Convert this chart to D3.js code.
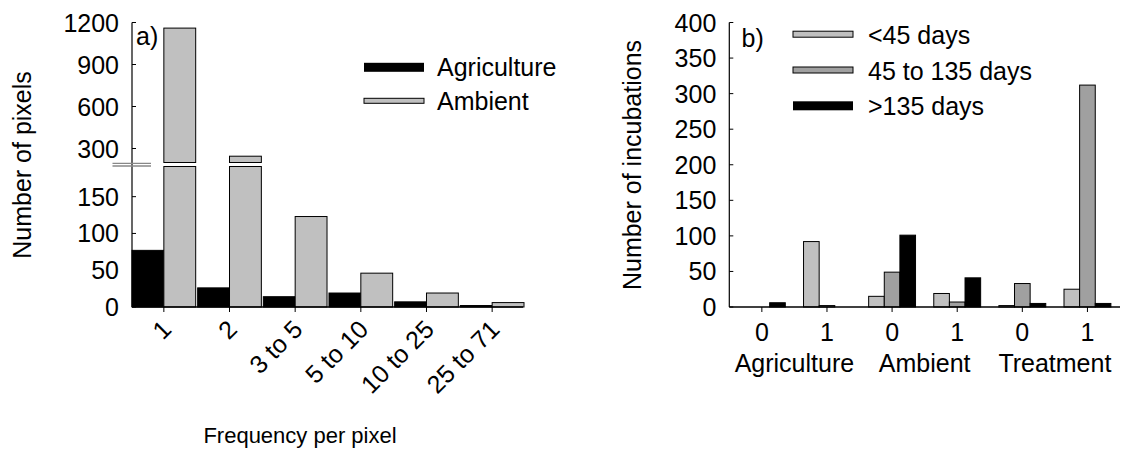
<!DOCTYPE html>
<html>
<head>
<meta charset="utf-8">
<script src="https://cdn.jsdelivr.net/npm/d3@7/dist/d3.min.js"></script>
<style>
  body { margin: 0; background: #fff; }
  svg { display: block; }
  text { font-family: "Liberation Sans", Arial, sans-serif; fill: #000; }
</style>
</head>
<body>
<script>
// ---- Panel a: pixel frequency ----
const freqCategories = ["1", "2", "3 to 5", "5 to 10", "10 to 25", "25 to 71"];
const agricultureCounts = [77, 26, 14, 19, 7, 2];
const ambientCounts = [1160, 245, 123, 46, 19, 6];
const lowTicks = [0, 50, 100, 150];
const highTicks = [300, 600, 900, 1200];

// ---- Panel b: incubations by site type and class ----
const siteGroups = ["Agriculture", "Ambient", "Treatment"];
const siteClasses = ["0", "1"];
const durationNames = ["<45 days", "45 to 135 days", ">135 days"];
const shortDuration = [0, 92, 15, 19, 2, 25];
const midDuration = [0, 2, 49, 7, 33, 312];
const longDuration = [6, 0, 101, 41, 5, 5];
const incubationTicks = [0, 50, 100, 150, 200, 250, 300, 350, 400];

const W = 1123, H = 454;
const FS = 25;
const svg = d3.select("body").append("svg").attr("width", W).attr("height", H);

const BLACK = "#000", LIGHT = "#c0c0c0", MID = "#a0a0a0";

// ================= Panel a =================
const aLeft = 132, aRight = 524, aBase = 307, aTop = 22.5;
const breakLow = 191, breakHigh = 200;
const yLow = d3.scaleLinear().domain([0, breakLow]).range([aBase, 166.5]);
const yHigh = d3.scaleLinear().domain([breakHigh, 1200]).range([162.5, aTop]);

const xa = d3.scaleBand().domain(freqCategories).range([aLeft, aRight])
  .paddingInner(0.03).paddingOuter(0);
const xaInner = d3.scaleBand().domain(["Agriculture", "Ambient"]).range([0, xa.bandwidth()]);

const gA = svg.append("g");
const seriesA = [
  { name: "Agriculture", values: agricultureCounts, fill: BLACK },
  { name: "Ambient", values: ambientCounts, fill: LIGHT }
];

seriesA.forEach(s => {
  s.values.forEach((v, i) => {
    const x = xa(freqCategories[i]) + xaInner(s.name);
    const w = xaInner.bandwidth();
    if (v <= breakLow) {
      gA.append("rect").attr("x", x).attr("y", yLow(v)).attr("width", w)
        .attr("height", aBase - yLow(v)).attr("fill", s.fill)
        .attr("stroke", "#000").attr("stroke-width", 1);
    } else {
      // lower segment up to the break, upper segment from the break to the value
      gA.append("rect").attr("x", x).attr("y", yLow(breakLow)).attr("width", w)
        .attr("height", aBase - yLow(breakLow)).attr("fill", s.fill)
        .attr("stroke", "#000").attr("stroke-width", 1);
      gA.append("rect").attr("x", x).attr("y", yHigh(v)).attr("width", w)
        .attr("height", yHigh(breakHigh) - yHigh(v)).attr("fill", s.fill)
        .attr("stroke", "#000").attr("stroke-width", 1);
    }
  });
});

// y axis line
gA.append("line").attr("x1", aLeft).attr("x2", aLeft).attr("y1", aTop).attr("y2", aBase)
  .attr("stroke", "#000").attr("stroke-width", 1.2);

function yTicks(g, scale, ticks, x0) {
  ticks.forEach(t => {
    g.append("line").attr("x1", x0).attr("x2", x0 + 4)
      .attr("y1", scale(t)).attr("y2", scale(t)).attr("stroke", "#000").attr("stroke-width", 1);
    g.append("text").attr("x", x0 - 13).attr("y", scale(t)).attr("dy", "0.36em")
      .attr("text-anchor", "end").attr("font-size", FS).text(t);
  });
}
yTicks(gA, yLow, lowTicks, aLeft);
yTicks(gA, yHigh, highTicks, aLeft);

// axis break marks
[163.4, 166].forEach(y => {
  gA.append("line").attr("x1", 112.5).attr("x2", 151).attr("y1", y).attr("y2", y)
    .attr("stroke", "#888").attr("stroke-width", 1.3);
});

// x axis
gA.append("line").attr("x1", aLeft).attr("x2", aRight - 1).attr("y1", aBase).attr("y2", aBase)
  .attr("stroke", "#000").attr("stroke-width", 1.6);
freqCategories.forEach(c => {
  const cx = xa(c) + xa.bandwidth() / 2;
  gA.append("line").attr("x1", cx).attr("x2", cx).attr("y1", aBase).attr("y2", aBase + 5)
    .attr("stroke", "#000").attr("stroke-width", 1);
  gA.append("text").attr("transform", `translate(${cx + 9},${aBase + 24}) rotate(-45)`)
    .attr("text-anchor", "end").attr("font-size", FS).text(c);
});

gA.append("text").attr("x", 300).attr("y", 443).attr("text-anchor", "middle")
  .attr("font-size", FS - 3).text("Frequency per pixel");
gA.append("text").attr("transform", `translate(31,165) rotate(-90)`)
  .attr("text-anchor", "middle").attr("font-size", FS).text("Number of pixels");
gA.append("text").attr("x", 136).attr("y", 45).attr("font-size", FS).text("a)");

// legend a
const legA = [
  { name: "Agriculture", fill: BLACK, h: 9 },
  { name: "Ambient", fill: LIGHT, h: 5 }
];
legA.forEach((d, i) => {
  const cy = 67.3 + i * 33.5;
  const r = gA.append("rect").attr("x", 364).attr("y", cy - d.h / 2).attr("width", 60)
    .attr("height", d.h).attr("fill", d.fill);
  if (d.fill !== BLACK) r.attr("stroke", "#000").attr("stroke-width", 1);
  gA.append("text").attr("x", 437).attr("y", cy + 9).attr("font-size", FS).text(d.name);
});

// ================= Panel b =================
const bLeft = 729.3, bRight = 1120, bBase = 307, bTop = 22.5;
const yb = d3.scaleLinear().domain([0, 400]).range([bBase, bTop]);
const bKeys = [];
siteGroups.forEach(g => siteClasses.forEach(c => bKeys.push(g + "|" + c)));
const xb = d3.scaleBand().domain(bKeys).range([bLeft, bRight]).paddingInner(0.28).paddingOuter(0.14);
const xbInner = d3.scaleBand().domain(durationNames).range([0, xb.bandwidth()]);

const gB = svg.append("g");
const seriesB = [
  { name: durationNames[0], values: shortDuration, fill: LIGHT },
  { name: durationNames[1], values: midDuration, fill: MID },
  { name: durationNames[2], values: longDuration, fill: BLACK }
];
seriesB.forEach(s => {
  s.values.forEach((v, i) => {
    if (v <= 0) return;
    gB.append("rect").attr("x", xb(bKeys[i]) + xbInner(s.name)).attr("y", yb(v))
      .attr("width", xbInner.bandwidth()).attr("height", bBase - yb(v))
      .attr("fill", s.fill).attr("stroke", "#000").attr("stroke-width", 1);
  });
});

gB.append("line").attr("x1", bLeft).attr("x2", bLeft).attr("y1", bTop).attr("y2", bBase)
  .attr("stroke", "#000").attr("stroke-width", 1.2);
yTicks(gB, yb, incubationTicks, bLeft);

gB.append("line").attr("x1", bLeft).attr("x2", bRight).attr("y1", bBase).attr("y2", bBase)
  .attr("stroke", "#000").attr("stroke-width", 1.6);
bKeys.forEach(k => {
  const cx = xb(k) + xb.bandwidth() / 2;
  gB.append("line").attr("x1", cx).attr("x2", cx).attr("y1", bBase).attr("y2", bBase + 5)
    .attr("stroke", "#000").attr("stroke-width", 1);
  gB.append("text").attr("x", cx).attr("y", 341).attr("text-anchor", "middle")
    .attr("font-size", FS).text(k.split("|")[1]);
});
siteGroups.forEach(g => {
  const c0 = xb(g + "|0") + xb.bandwidth() / 2;
  const c1 = xb(g + "|1") + xb.bandwidth() / 2;
  gB.append("text").attr("x", (c0 + c1) / 2).attr("y", 372).attr("text-anchor", "middle")
    .attr("font-size", FS).text(g);
});

gB.append("text").attr("transform", `translate(641,165) rotate(-90)`)
  .attr("text-anchor", "middle").attr("font-size", FS).text("Number of incubations");
gB.append("text").attr("x", 741.5).attr("y", 46.5).attr("font-size", FS).text("b)");

// legend b
const legB = [
  { name: durationNames[0], fill: LIGHT, h: 6 },
  { name: durationNames[1], fill: MID, h: 6 },
  { name: durationNames[2], fill: BLACK, h: 9 }
];
legB.forEach((d, i) => {
  const cy = 34.2 + i * 35.8;
  const r = gB.append("rect").attr("x", 793).attr("y", cy - d.h / 2).attr("width", 60)
    .attr("height", d.h).attr("fill", d.fill);
  if (d.fill !== BLACK) r.attr("stroke", "#000").attr("stroke-width", 1);
  gB.append("text").attr("x", 868).attr("y", cy + 9.5).attr("font-size", FS).text(d.name);
});
</script>
</body>
</html>
